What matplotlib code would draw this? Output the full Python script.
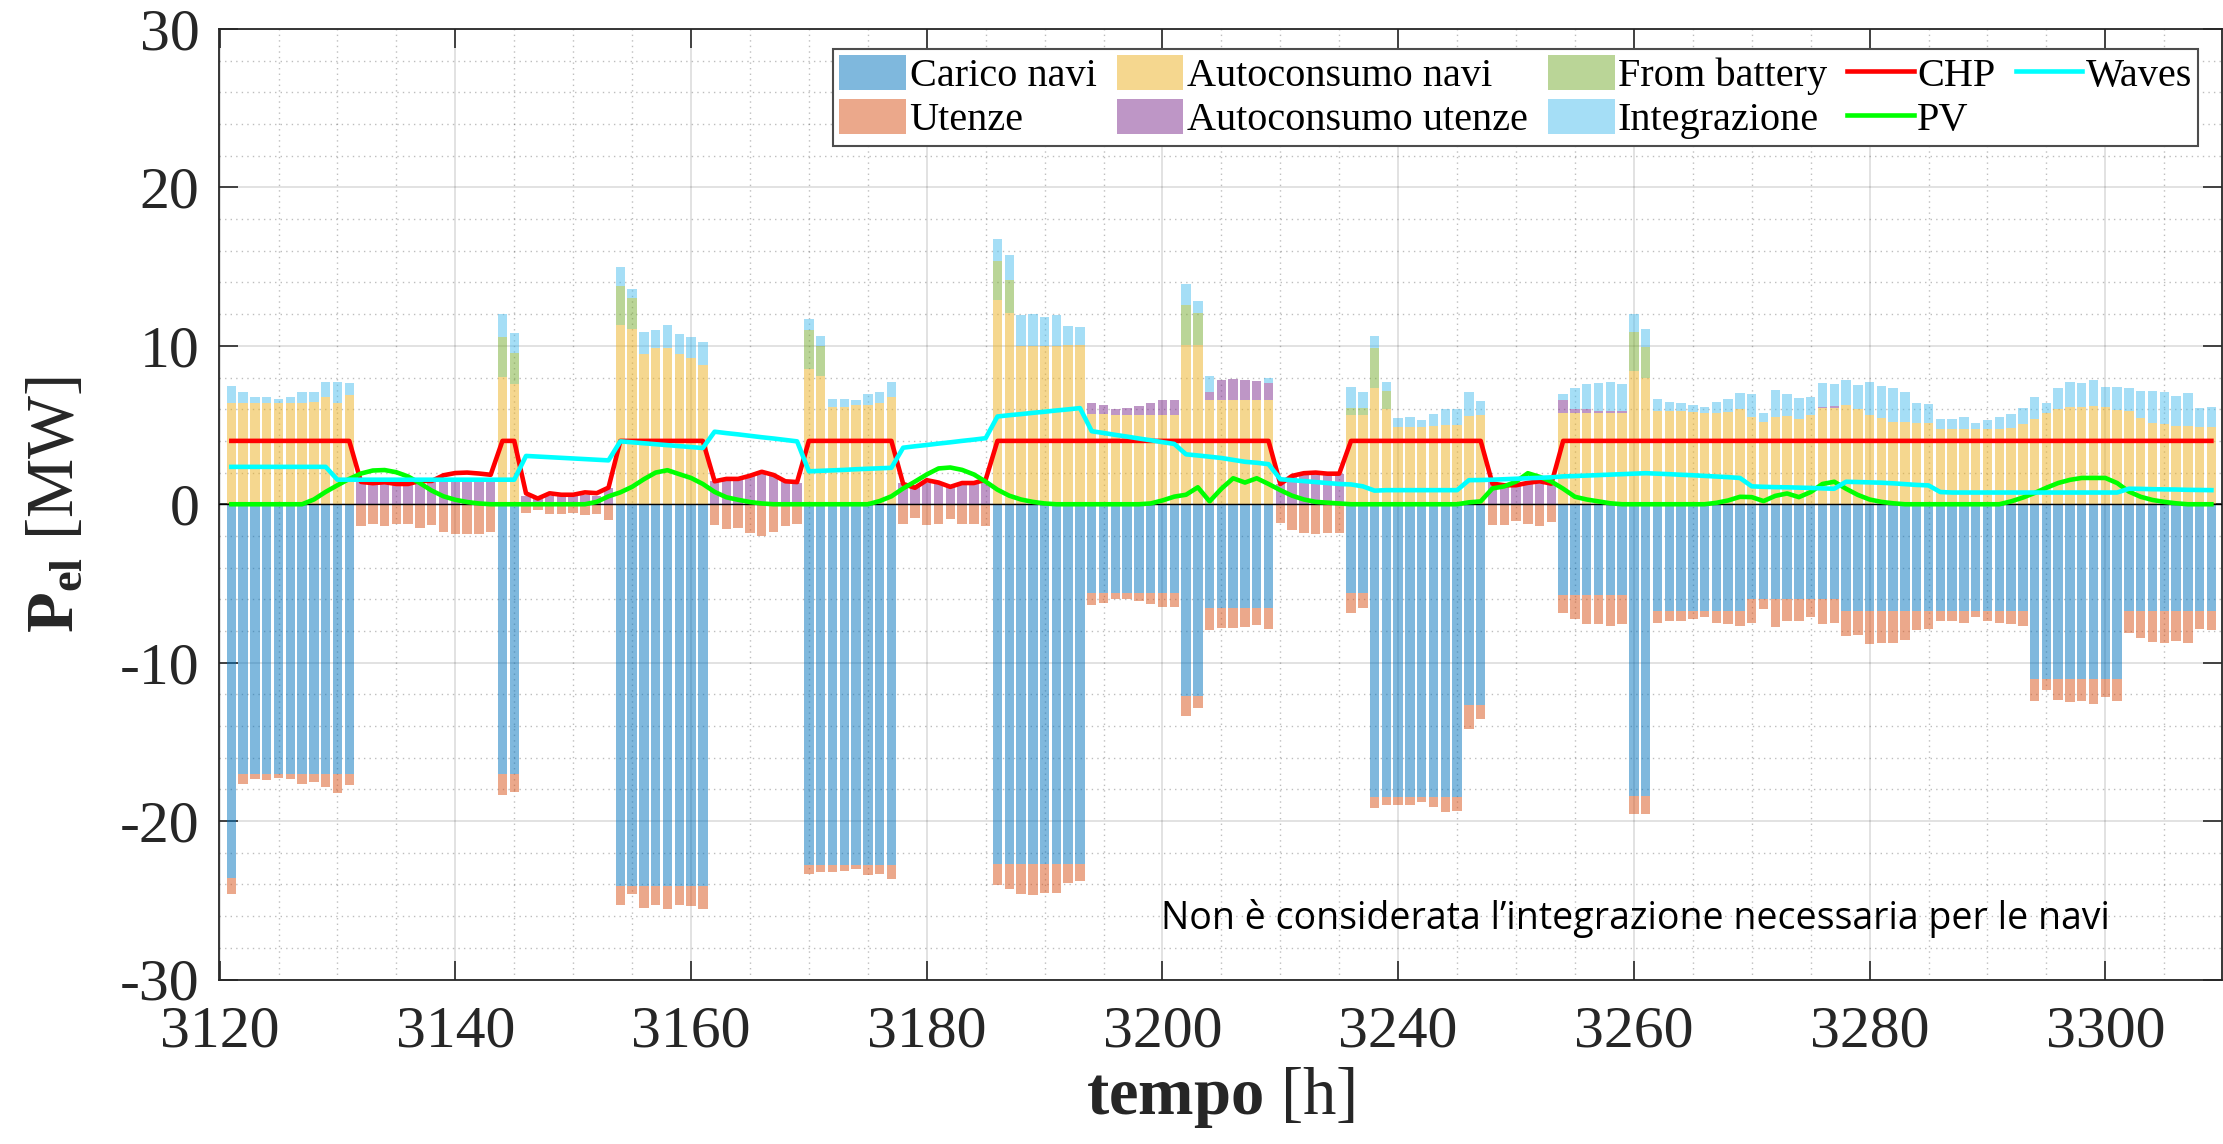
import numpy as np
import matplotlib
matplotlib.use("Agg")
import matplotlib.pyplot as plt
from matplotlib.ticker import MultipleLocator

plt.rcParams['font.family'] = 'Liberation Serif'
plt.rcParams['mathtext.fontset'] = 'custom'
plt.rcParams['mathtext.rm'] = 'Liberation Serif'
plt.rcParams['mathtext.bf'] = 'Liberation Serif:bold'
plt.rcParams['mathtext.it'] = 'Liberation Serif:italic'
plt.rcParams['axes.unicode_minus'] = False

# hourly data, 3121 ... 3289 (position on the time axis)
hours = np.arange(3121, 3290)

# negative stack: ship load and users load [MW]
carico_navi = [
    -23.6, -17.0, -17.0, -17.0, -17.0, -17.0, -17.0, -17.0, -17.0, -17.0, -17.0,
    0, 0, 0, 0, 0, 0, 0, 0, 0, 0, 0, 0,
    -17.0, -17.0,
    0, 0, 0, 0, 0, 0, 0, 0,
    -24.1, -24.1, -24.1, -24.1, -24.1, -24.1, -24.1, -24.1,
    0, 0, 0, 0, 0, 0, 0, 0,
    -22.75, -22.75, -22.75, -22.75, -22.75, -22.75, -22.75, -22.75,
    0, 0, 0, 0, 0, 0, 0, 0,
    -22.7, -22.7, -22.7, -22.7, -22.7, -22.7, -22.7, -22.7,
    -5.6, -5.6, -5.6, -5.6, -5.6, -5.6, -5.6, -5.6,
    -12.1, -12.1,
    -6.55, -6.55, -6.55, -6.55, -6.55, -6.55,
    0, 0, 0, 0, 0, 0,
    -5.6, -5.6,
    -18.45, -18.45, -18.45, -18.45, -18.45, -18.45, -18.45, -18.45,
    -12.7, -12.7,
    0, 0, 0, 0, 0, 0,
    -5.7, -5.7, -5.7, -5.7, -5.7, -5.7, -18.4, -18.4,
    -6.75, -6.75, -6.75, -6.75, -6.75, -6.75, -6.75, -6.75,
    -6.0, -6.0, -6.0, -6.0, -6.0, -6.0, -6.0, -6.0,
    -6.75, -6.75, -6.75, -6.75, -6.75, -6.75, -6.75, -6.75,
    -6.75, -6.75, -6.75, -6.75, -6.75, -6.75, -6.75, -6.75,
    -11.0, -11.0, -11.0, -11.0, -11.0, -11.0, -11.0, -11.0,
    -6.75, -6.75, -6.75, -6.75, -6.75, -6.75, -6.75, -6.75,
]
utenze = [
    -1.0, -0.64, -0.36, -0.39, -0.25, -0.36, -0.67, -0.56, -0.87, -1.25, -0.70,
    -1.36, -1.22, -1.39, -1.25, -1.22, -1.53, -1.30, -1.75, -1.86, -1.89, -1.86, -1.75,
    -1.37, -1.17,
    -0.53, -0.36, -0.60, -0.61, -0.53, -0.69, -0.61, -1.00,
    -1.22, -0.50, -1.39, -1.17, -1.45, -1.22, -1.25, -1.45,
    -1.33, -1.58, -1.53, -1.83, -2.02, -1.78, -1.39, -1.25,
    -0.61, -0.47, -0.47, -0.41, -0.25, -0.66, -0.61, -0.88,
    -1.22, -0.89, -1.34, -1.22, -0.95, -1.22, -1.22, -1.40,
    -1.34, -1.58, -1.93, -1.99, -1.84, -1.87, -1.19, -1.07,
    -0.74, -0.62, -0.38, -0.41, -0.53, -0.68, -0.89, -0.89,
    -1.28, -0.75,
    -1.40, -1.25, -1.25, -1.19, -1.10, -1.34,
    -1.19, -1.64, -1.79, -1.85, -1.79, -1.79,
    -1.28, -0.98,
    -0.72, -0.51, -0.51, -0.51, -0.35, -0.65, -0.95, -0.90,
    -1.50, -0.84,
    -1.34, -1.28, -1.04, -1.25, -1.37, -1.13,
    -1.14, -1.54, -1.84, -1.87, -1.99, -1.84, -1.13, -1.18,
    -0.74, -0.59, -0.59, -0.50, -0.38, -0.74, -0.83, -0.92,
    -1.49, -0.60, -1.73, -1.40, -1.34, -1.10, -1.58, -1.49,
    -1.54, -1.51, -2.07, -1.98, -2.01, -1.84, -1.18, -1.12,
    -0.59, -0.59, -0.74, -0.38, -0.59, -0.74, -0.80, -0.95,
    -1.42, -0.71, -1.33, -1.51, -1.42, -1.60, -1.16, -1.45,
    -1.39, -1.69, -1.92, -1.98, -1.89, -2.04, -1.12, -1.18,
]

# positive stack [MW]
autoc_navi = [
    6.38, 6.38, 6.38, 6.38, 6.38, 6.38, 6.38, 6.46, 6.77, 6.40, 6.90,
    0, 0, 0, 0, 0, 0, 0, 0, 0, 0, 0, 0,
    8.04, 7.57,
    0, 0, 0, 0, 0, 0, 0, 0,
    11.29, 11.04, 9.49, 9.85, 9.85, 9.51, 9.24, 8.77,
    0, 0, 0, 0, 0, 0, 0, 0,
    8.54, 8.07, 6.13, 6.13, 6.24, 6.27, 6.41, 6.77,
    0, 0, 0, 0, 0, 0, 0, 0,
    12.89, 12.08, 10.0, 10.0, 10.0, 10.0, 10.06, 10.06,
    5.68, 5.68, 5.63, 5.63, 5.63, 5.63, 5.63, 5.63,
    10.06, 10.06,
    6.61, 6.61, 6.61, 6.61, 6.61, 6.61,
    0, 0, 0, 0, 0, 0,
    5.65, 5.65,
    7.32, 6.04, 4.88, 4.88, 4.88, 4.97, 5.0, 5.0,
    5.57, 5.63,
    0, 0, 0, 0, 0, 0,
    5.77, 5.73, 5.73, 5.73, 5.79, 5.79, 8.40, 7.95,
    5.88, 5.88, 5.88, 5.82, 5.79, 5.73, 5.85, 6.02,
    5.49, 5.19, 5.49, 5.58, 5.37, 5.64, 6.08, 6.08,
    6.26, 6.00, 5.61, 5.43, 5.22, 5.19, 5.15, 5.13,
    4.78, 4.78, 4.78, 4.78, 4.78, 4.78, 4.84, 5.04,
    5.37, 5.73, 5.99, 6.14, 6.17, 6.23, 6.17, 5.93,
    5.88, 5.43, 5.16, 5.04, 4.93, 4.93, 4.90, 4.90,
]
autoc_utenze = [
    0, 0, 0, 0, 0, 0, 0, 0, 0, 0, 0,
    1.41, 1.33, 1.39, 1.28, 1.28, 1.39, 1.55, 1.53, 1.61, 1.61, 1.61, 1.61,
    0, 0,
    0.55, 0.36, 0.55, 0.55, 0.50, 0.60, 0.55, 1.05,
    0, 0, 0, 0, 0, 0, 0, 0,
    1.47, 1.61, 1.55, 1.83, 2.08, 1.86, 1.53, 1.33,
    0, 0, 0, 0, 0, 0, 0, 0,
    1.34, 1.19, 1.34, 1.34, 1.07, 1.28, 1.28, 1.43,
    0, 0, 0, 0, 0, 0, 0, 0,
    0.72, 0.60, 0.41, 0.47, 0.59, 0.74, 0.95, 0.95,
    0, 0,
    0.50, 1.25, 1.31, 1.25, 1.16, 1.07,
    1.30, 1.75, 1.90, 1.95, 1.90, 1.90,
    0, 0,
    0, 0, 0, 0, 0, 0, 0, 0,
    0, 0,
    1.43, 1.28, 1.28, 1.43, 1.52, 1.43,
    0.78, 0.29, 0.29, 0.15, 0.10, 0.10, 0, 0,
    0, 0, 0, 0, 0, 0, 0, 0,
    0, 0, 0, 0, 0, 0, 0.09, 0.15,
    0, 0, 0, 0, 0, 0, 0, 0,
    0, 0, 0, 0, 0, 0, 0, 0,
    0, 0, 0, 0, 0, 0, 0, 0,
    0, 0, 0, 0, 0, 0, 0, 0,
]
from_battery = [
    0, 0, 0, 0, 0, 0, 0, 0, 0, 0, 0,
    0, 0, 0, 0, 0, 0, 0, 0, 0, 0, 0, 0,
    2.50, 1.97,
    0, 0, 0, 0, 0, 0, 0, 0,
    2.47, 2.00, 0, 0, 0, 0, 0, 0,
    0, 0, 0, 0, 0, 0, 0, 0,
    2.47, 1.94, 0, 0, 0, 0, 0, 0,
    0, 0, 0, 0, 0, 0, 0, 0,
    2.47, 2.06, 0, 0, 0, 0, 0, 0,
    0, 0, 0, 0, 0, 0, 0, 0,
    2.53, 1.99,
    0, 0, 0, 0, 0, 0,
    0, 0, 0, 0, 0, 0,
    0.42, 0.42,
    2.53, 1.10, 0, 0, 0, 0, 0, 0,
    0, 0,
    0, 0, 0, 0, 0, 0,
    0, 0, 0, 0, 0, 0, 2.49, 1.96,
    0, 0, 0, 0, 0, 0, 0, 0,
    0, 0, 0, 0, 0, 0, 0, 0,
    0, 0, 0, 0, 0, 0, 0, 0,
    0, 0, 0, 0, 0, 0, 0, 0,
    0, 0, 0, 0, 0, 0, 0, 0,
    0, 0, 0, 0, 0, 0, 0, 0,
]
integrazione = [
    1.11, 0.69, 0.36, 0.42, 0.28, 0.36, 0.69, 0.61, 0.94, 1.31, 0.78,
    0, 0, 0, 0, 0, 0, 0, 0, 0, 0, 0, 0,
    1.46, 1.25,
    0, 0, 0, 0, 0, 0, 0, 0,
    1.24, 0.55, 1.38, 1.13, 1.44, 1.25, 1.30, 1.49,
    0, 0, 0, 0, 0, 0, 0, 0,
    0.67, 0.61, 0.53, 0.53, 0.31, 0.69, 0.66, 0.97,
    0, 0, 0, 0, 0, 0, 0, 0,
    1.37, 1.60, 1.96, 1.99, 1.82, 1.96, 1.22, 1.10,
    0, 0, 0, 0, 0, 0, 0, 0,
    1.34, 0.75,
    0.96, 0, 0, 0, 0, 0.30,
    0, 0, 0, 0, 0, 0,
    1.31, 1.04,
    0.75, 0.60, 0.57, 0.60, 0.42, 0.71, 1.04, 1.01,
    1.51, 0.89,
    0, 0, 0, 0, 0, 0,
    0.38, 1.34, 1.58, 1.78, 1.85, 1.71, 1.13, 1.16,
    0.74, 0.56, 0.50, 0.44, 0.32, 0.74, 0.80, 1.01,
    1.45, 0.60, 1.72, 1.39, 1.34, 1.13, 1.49, 1.34,
    1.60, 1.54, 2.13, 2.02, 2.11, 1.90, 1.23, 1.19,
    0.62, 0.59, 0.74, 0.38, 0.56, 0.74, 0.86, 1.04,
    1.40, 0.68, 1.34, 1.55, 1.49, 1.63, 1.22, 1.49,
    1.48, 1.69, 1.96, 2.05, 1.92, 2.07, 1.18, 1.21,
]

# generation lines [MW]
chp = [
    4.0, 4.0, 4.0, 4.0, 4.0, 4.0, 4.0, 4.0, 4.0, 4.0, 4.0,
    1.41, 1.33, 1.39, 1.28, 1.28, 1.47, 1.47, 1.83, 1.97, 2.00, 1.94, 1.86,
    4.0, 4.0,
    0.69, 0.36, 0.69, 0.60, 0.60, 0.75, 0.70, 1.05,
    4.0, 4.0, 4.0, 4.0, 4.0, 4.0, 4.0, 4.0,
    1.45, 1.60, 1.60, 1.80, 2.05, 1.85, 1.45, 1.40,
    4.0, 4.0, 4.0, 4.0, 4.0, 4.0, 4.0, 4.0,
    1.28, 1.04, 1.52, 1.37, 1.10, 1.34, 1.34, 1.55,
    4.0, 4.0, 4.0, 4.0, 4.0, 4.0, 4.0, 4.0,
    4.0, 4.0, 4.0, 4.0, 4.0, 4.0, 4.0, 4.0,
    4.0, 4.0,
    4.0, 4.0, 4.0, 4.0, 4.0, 4.0,
    1.28, 1.79, 1.96, 2.00, 1.93, 1.93,
    4.0, 4.0,
    4.0, 4.0, 4.0, 4.0, 4.0, 4.0, 4.0, 4.0,
    4.0, 4.0,
    1.30, 1.20, 1.20, 1.35, 1.45, 1.30,
    4.0, 4.0, 4.0, 4.0, 4.0, 4.0, 4.0, 4.0,
    4.0, 4.0, 4.0, 4.0, 4.0, 4.0, 4.0, 4.0,
    4.0, 4.0, 4.0, 4.0, 4.0, 4.0, 4.0, 4.0,
    4.0, 4.0, 4.0, 4.0, 4.0, 4.0, 4.0, 4.0,
    4.0, 4.0, 4.0, 4.0, 4.0, 4.0, 4.0, 4.0,
    4.0, 4.0, 4.0, 4.0, 4.0, 4.0, 4.0, 4.0,
    4.0, 4.0, 4.0, 4.0, 4.0, 4.0, 4.0, 4.0,
]
pv = [
    0, 0, 0, 0, 0, 0, 0, 0.30, 0.78, 1.20, 1.60,
    1.94, 2.13, 2.16, 2.02, 1.75, 1.33, 0.86, 0.50, 0.28, 0.14, 0.05, 0,
    0, 0,
    0, 0, 0, 0, 0, 0, 0.15, 0.50,
    0.75, 1.10, 1.58, 2.00, 2.15, 1.90, 1.66, 1.28,
    0.78, 0.44, 0.28, 0.14, 0.05, 0, 0, 0,
    0, 0, 0, 0, 0, 0, 0.20, 0.50,
    1.00, 1.43, 1.88, 2.26, 2.32, 2.17, 1.88, 1.43,
    0.92, 0.54, 0.30, 0.15, 0.05, 0, 0, 0,
    0, 0, 0, 0, 0, 0.05, 0.24, 0.48,
    0.60, 1.07,
    0.18, 0.98, 1.64, 1.37, 1.64, 1.28,
    0.89, 0.54, 0.30, 0.15, 0.10, 0.05,
    0, 0,
    0, 0, 0, 0, 0, 0, 0, 0,
    0.12, 0.18,
    1.00, 1.13, 1.43, 1.96, 1.73, 1.43,
    0.98, 0.47, 0.30, 0.18, 0.06, 0, 0, 0,
    0, 0, 0, 0, 0, 0.09, 0.24, 0.47,
    0.45, 0.20, 0.53, 0.68, 0.45, 0.77, 1.28, 1.42,
    0.98, 0.59, 0.30, 0.15, 0.06, 0, 0, 0,
    0, 0, 0, 0, 0, 0, 0.18, 0.42,
    0.71, 1.04, 1.34, 1.54, 1.66, 1.66, 1.66, 1.34,
    0.80, 0.47, 0.27, 0.15, 0.06, 0, 0, 0,
]
waves = [
    2.36, 2.36, 2.36, 2.36, 2.36, 2.36, 2.36, 2.36, 2.36, 1.55, 1.55,
    1.55, 1.55, 1.55, 1.55, 1.55, 1.55, 1.55, 1.55, 1.55, 1.55, 1.55, 1.55,
    1.55, 1.55,
    3.05, 3.01, 2.97, 2.93, 2.89, 2.85, 2.81, 2.77,
    3.97, 3.91, 3.85, 3.79, 3.73, 3.67, 3.61, 3.55,
    4.58, 4.49, 4.41, 4.32, 4.23, 4.15, 4.06, 3.97,
    2.08, 2.11, 2.14, 2.17, 2.21, 2.24, 2.27, 2.30,
    3.57, 3.66, 3.74, 3.83, 3.91, 4.00, 4.08, 4.17,
    5.54, 5.62, 5.69, 5.77, 5.84, 5.92, 5.99, 6.07,
    4.61, 4.50, 4.38, 4.27, 4.15, 4.04, 3.92, 3.81,
    3.15, 3.08,
    3.00, 2.92, 2.80, 2.68, 2.62, 2.53,
    1.58, 1.52, 1.46, 1.40, 1.34, 1.28,
    1.25, 1.13,
    0.86, 0.89, 0.89, 0.89, 0.89, 0.89, 0.89, 0.89,
    1.52, 1.53,
    1.55, 1.58, 1.61, 1.64, 1.67, 1.70,
    1.76, 1.78, 1.81, 1.84, 1.87, 1.90, 1.93, 1.96,
    1.93, 1.90, 1.86, 1.83, 1.79, 1.75, 1.71, 1.66,
    1.13, 1.10, 1.08, 1.07, 1.05, 1.03, 1.00, 0.98,
    1.42, 1.40, 1.38, 1.36, 1.32, 1.27, 1.22, 1.19,
    0.77, 0.74, 0.74, 0.74, 0.74, 0.74, 0.74, 0.74,
    0.74, 0.74, 0.74, 0.74, 0.74, 0.74, 0.74, 0.74,
    0.98, 0.97, 0.95, 0.94, 0.93, 0.91, 0.90, 0.89,
]

xtick_pos = [3120, 3140, 3160, 3180, 3200, 3220, 3240, 3260, 3280]
xtick_labels = ['3120', '3140', '3160', '3180', '3200', '3240', '3260', '3280', '3300']
legend_order = ['Carico navi', 'Utenze', 'Autoconsumo navi', 'Autoconsumo utenze',
                'From battery', 'Integrazione', 'CHP', 'PV', 'Waves']

# MATLAB default colour order, drawn with FaceAlpha 0.5
C_NAVI = (0.0, 0.447, 0.741)
C_UTENZE = (0.85, 0.325, 0.098)
C_AUTO_NAVI = (0.929, 0.694, 0.125)
C_AUTO_UT = (0.494, 0.184, 0.556)
C_BATT = (0.466, 0.674, 0.188)
C_INTEG = (0.301, 0.745, 0.933)
AX_COL = (0.15, 0.15, 0.15)

W, H = 2223, 1144
fig = plt.figure(figsize=(W / 100, H / 100), dpi=100)
ax = fig.add_axes([219 / W, 1 - 979.5 / H, (2222 - 219) / W, (979.5 - 29) / H])

navi = np.array(carico_navi)
an = np.array(autoc_navi)
au = np.array(autoc_utenze)
fb = np.array(from_battery)

bw = 0.8
ax.bar(hours, carico_navi, bw, color=C_NAVI, alpha=0.5, label='Carico navi', zorder=2)
ax.bar(hours, utenze, bw, bottom=navi, color=C_UTENZE, alpha=0.5, label='Utenze', zorder=2)
ax.bar(hours, autoc_navi, bw, color=C_AUTO_NAVI, alpha=0.5, label='Autoconsumo navi', zorder=2)
ax.bar(hours, autoc_utenze, bw, bottom=an, color=C_AUTO_UT, alpha=0.5,
       label='Autoconsumo utenze', zorder=2)
ax.bar(hours, from_battery, bw, bottom=an + au, color=C_BATT, alpha=0.5,
       label='From battery', zorder=2)
ax.bar(hours, integrazione, bw, bottom=an + au + fb, color=C_INTEG, alpha=0.5,
       label='Integrazione', zorder=2)

ax.axhline(0, color='black', lw=1.0, zorder=3)

ax.plot(hours, chp, color=(1, 0, 0), lw=3.3, label='CHP', zorder=4)
ax.plot(hours, pv, color=(0, 1, 0), lw=3.3, label='PV', zorder=4)
ax.plot(hours, waves, color=(0, 1, 1), lw=3.3, label='Waves', zorder=4)

ax.set_xlim(3119.95, 3289.9)
ax.set_ylim(-30, 30)
ax.set_xticks(xtick_pos)
ax.set_xticklabels(xtick_labels)
ax.set_yticks(np.arange(-30, 31, 10))
ax.xaxis.set_minor_locator(MultipleLocator(5))
ax.yaxis.set_minor_locator(MultipleLocator(2))

ax.set_axisbelow(True)
ax.grid(which='major', color=AX_COL, alpha=0.15, lw=1.3)
ax.grid(which='minor', color=AX_COL, alpha=0.3, lw=1.0, linestyle=(0, (1, 3)))

ax.tick_params(which='major', direction='in', length=14, width=1.2, color=AX_COL,
               top=True, right=True, labelsize=43, labelcolor=AX_COL)
ax.tick_params(axis='x', which='major', pad=19)
ax.tick_params(axis='y', which='major', pad=14)
ax.tick_params(which='minor', length=0)
for sp in ax.spines.values():
    sp.set_color(AX_COL)
    sp.set_linewidth(1.3)

ax.set_xlabel(r'$\mathbf{tempo}$ [h]', fontsize=48, color=AX_COL, labelpad=4)
ax.set_ylabel(r'$\mathbf{P_{el}}$ [MW]', fontsize=48, color=AX_COL, labelpad=24)

handles, labels = ax.get_legend_handles_labels()
lookup = dict(zip(labels, handles))
leg = ax.legend([lookup[k] for k in legend_order], legend_order,
                loc='upper right', bbox_to_anchor=(2198 / W, 1 - 49 / H),
                bbox_transform=fig.transFigure, ncol=5, fontsize=29,
                frameon=True, fancybox=False, framealpha=1, edgecolor=(0.3, 0.3, 0.3),
                borderpad=0.15, labelspacing=0.1, handlelength=1.66, handleheight=0.95,
                handletextpad=0.08, columnspacing=0.5, borderaxespad=0)
leg.get_frame().set_linewidth(1.5)

fig.text(1635 / W, 1 - 929 / H,
         'Non è considerata l\u2019integrazione necessaria per le navi',
         ha='center', va='baseline', fontsize=27, family='Open Sans', color='black')

fig.savefig('out.png', dpi=100)
